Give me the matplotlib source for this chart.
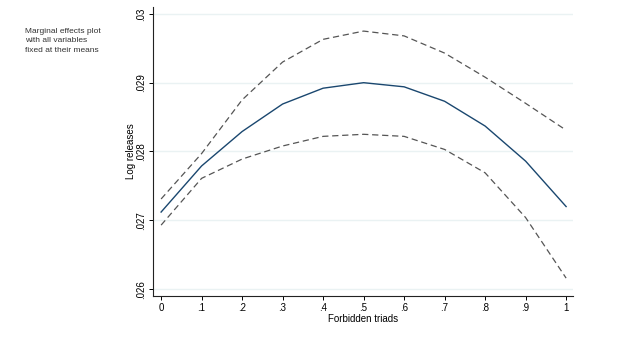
import matplotlib
matplotlib.use("Agg")
import matplotlib.pyplot as plt

x = [0, 0.1, 0.2, 0.3, 0.4, 0.5, 0.6, 0.7, 0.8, 0.9, 1.0]
est = [0.02712, 0.02779, 0.02829, 0.02869, 0.02892, 0.02900, 0.02894, 0.02873, 0.02837, 0.02786, 0.02720]
upper = [0.02731, 0.02797, 0.02875, 0.02930, 0.02963, 0.02975, 0.02968, 0.02943, 0.02908, 0.02870, 0.02831]
lower = [0.02693, 0.02761, 0.02789, 0.02808, 0.02822, 0.02825, 0.02822, 0.02803, 0.02769, 0.02704, 0.02616]
xticks = [0, 0.1, 0.2, 0.3, 0.4, 0.5, 0.6, 0.7, 0.8, 0.9, 1.0]
xticklabels = ["0", ".1", ".2", ".3", ".4", ".5", ".6", ".7", ".8", ".9", "1"]
yticks = [0.026, 0.027, 0.028, 0.029, 0.030]
yticklabels = [".026", ".027", ".028", ".029", ".03"]

plt.rcParams['font.family'] = ['Liberation Sans', 'DejaVu Sans']
fig = plt.figure(figsize=(6.4, 3.6), dpi=100)
ax = fig.add_axes([153/640, 1-296/360, 420/640, 289/360])

ax.plot(x, upper, color="#555555", lw=0.9, dashes=(5, 3))
ax.plot(x, lower, color="#555555", lw=0.9, dashes=(5, 3))
ax.plot(x, est, color="#1a476f", lw=1.0)

ax.set_xlim(-0.02, 1.017)
ax.set_ylim(0.0259, 0.03010)
ax.set_xticks(xticks)
ax.set_xticklabels(xticklabels, fontsize=7)
ax.set_yticks(yticks)
ax.set_yticklabels(yticklabels, fontsize=7, rotation=90, va="center")
ax.grid(axis="y", color="#eaf2f3", lw=1.0)
ax.set_axisbelow(True)
for s in ["top", "right"]:
    ax.spines[s].set_visible(False)
for s in ["left", "bottom"]:
    ax.spines[s].set_linewidth(0.8)
    ax.spines[s].set_color("#222222")
ax.tick_params(length=3, width=0.7, pad=2)
ax.set_xlabel("Forbidden triads", fontsize=7, labelpad=1)
ax.set_ylabel("Log releases", fontsize=7, labelpad=0)

fig.text(25/640, 1-28/360, "Marginal effects plot\nwith all variables\nfixed at their means",
         fontsize=6, va="top", ha="left", color="#333333", linespacing=1.45)

fig.savefig("out.png", dpi=100)
